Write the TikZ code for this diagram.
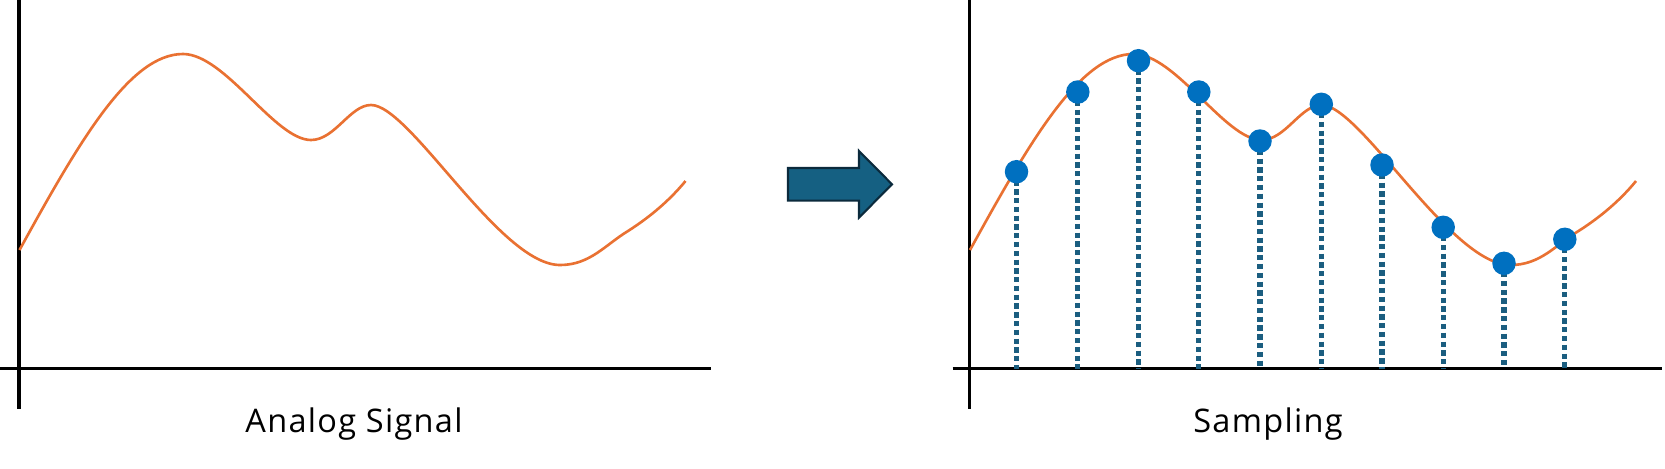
\documentclass[tikz,border=0pt]{standalone}
\usepackage{fontspec}
\setmainfont{Open Sans}[LetterSpace=4]

\definecolor{sigorange}{HTML}{E97132}
\definecolor{dotblue}{HTML}{0070C0}
\definecolor{stemteal}{HTML}{1B5E80}
\definecolor{arrowfill}{HTML}{156082}
\definecolor{arrowedge}{HTML}{0B2A3C}

\tikzset{
    axisline/.style={line width=1.9pt, black},
    signal/.style={line width=1.5pt, sigorange},
    sample/.style={circle, fill=dotblue, inner sep=0pt, minimum size=0.47cm},
    stem/.style={line width=2.9pt, stemteal, dash pattern=on 3pt off 2pt},
    bigarrow/.style={fill=arrowfill, draw=arrowedge, line width=1.2pt, line join=miter},
    caption/.style={font=\fontsize{18.5}{20}\selectfont, anchor=base},
}

\begin{document}
\begin{tikzpicture}[x=0.02cm, y=-0.02cm]
    \useasboundingbox (0,0) rectangle (1665,468);

    % Axes of both panels
    \foreach \dx in {0, 950.5} {
        \draw[axisline] (19+\dx,0) -- (19+\dx,409);
        \draw[axisline] (2+\dx,368.5) -- (711+\dx,368.5);
    }
    \draw[axisline] (0,368.5) -- (19,368.5);

    % The same analog signal, drawn in both panels
    \foreach \dx in {0, 950.5} {
        \draw[signal, shift={(\dx,0)}] (19.5,250)
            .. controls (80,140) and (130,54) .. (183,54)
            .. controls (225,54) and (275,140) .. (311,140)
            .. controls (335,140) and (350,105) .. (371,105)
            .. controls (410,105) and (500,265) .. (560,265)
            .. controls (590,265) and (605,245) .. (628,231)
            .. controls (650,217) and (670,200) .. (685.5,181);
    }

    % Conversion arrow
    \draw[bigarrow] (788,168) -- (859,168) -- (859,151) -- (892,184.3)
        -- (859,217.6) -- (859,200.6) -- (788,200.6) -- cycle;

    % Samples: dotted stems first, dots on top
    \foreach \x/\y [count=\i] in {1016.5/171.7, 1077.8/92, 1138.5/60.7,
            1198.8/92, 1260/141, 1321.3/104.3, 1382/165, 1443.2/227.3,
            1504/263.3, 1564.8/239.3} {
        \coordinate (p\i) at (\x,\y);
        \coordinate (b\i) at (\x,368.5);
        \draw[stem] (p\i) -- (b\i);
        \node[sample] (s\i) at (p\i) {};
    }

    \node[caption] (analog) at (354,432.3) {Analog Signal};
    \node[caption] (sampling) at (1268,432.3) {Sampling};
\end{tikzpicture}
\end{document}
